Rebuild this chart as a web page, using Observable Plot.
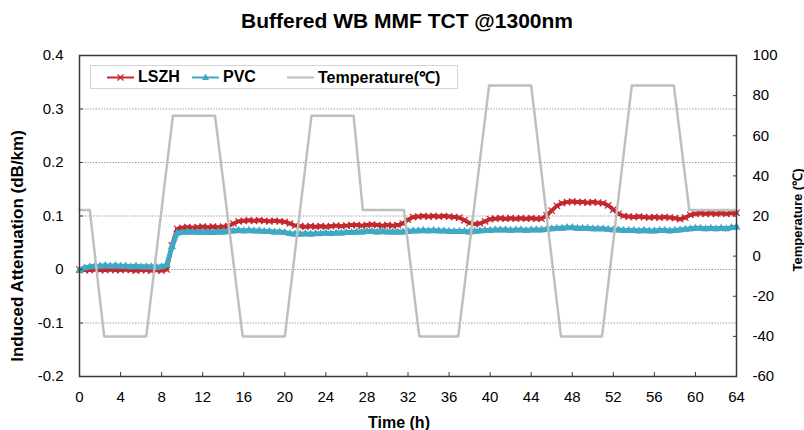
<!DOCTYPE html>
<html>
<head>
<meta charset="utf-8">
<script src="https://cdn.jsdelivr.net/npm/d3@7"></script>
<script src="https://cdn.jsdelivr.net/npm/@observablehq/plot@0.6"></script>
<style>
  body { margin: 0; background: #fff; }
  #wrap { position: relative; width: 804px; height: 430px; overflow: hidden; font-family: "Liberation Sans", Arial, sans-serif; }
  #title { position: absolute; top: 10px; left: 10px; width: 794px; text-align: center; font-weight: bold; font-size: 21px; line-height: 1; color: #000; }
  #chart { position: absolute; top: 38px; left: 0; }
  #legend { position: absolute; left: 90px; top: 65px; width: 366px; height: 22px; border: 1px solid #d4d4d4; background: #fff; }
  #legend .item { position: absolute; top: 0; height: 22px; display: flex; align-items: center; font-weight: bold; font-size: 16px; color: #000; }
  #legend svg { margin-right: 3px; }
</style>
</head>
<body>
<div id="wrap">
  <div id="title">Buffered WB MMF TCT @1300nm</div>
  <div id="chart"></div>
  <div id="legend"></div>
</div>
<script>
// Time axis of the samples (hours), one reading every half hour
const hours = d3.range(0, 64.001, 0.5);

// Induced attenuation (dB/km), LSZH jacket
const lszh = [
  0.000, -0.001, -0.001, 0.000, -0.001, -0.001, 0.000, -0.001, -0.001, 0.000,
  -0.001, -0.002, -0.001, -0.001, -0.002, -0.001, -0.002, 0.000, 0.045, 0.076,
  0.078, 0.079, 0.078, 0.079, 0.080, 0.079, 0.080, 0.079, 0.080, 0.081,
  0.086, 0.090, 0.091, 0.092, 0.091, 0.092, 0.091, 0.090, 0.091, 0.090,
  0.089, 0.086, 0.082, 0.081, 0.080, 0.081, 0.080, 0.081, 0.080, 0.081,
  0.082, 0.081, 0.082, 0.083, 0.083, 0.082, 0.083, 0.084, 0.083, 0.082,
  0.083, 0.082, 0.083, 0.086, 0.093, 0.098, 0.099, 0.100, 0.099, 0.100,
  0.099, 0.100, 0.099, 0.098, 0.097, 0.092, 0.087, 0.085, 0.086, 0.090,
  0.094, 0.095, 0.096, 0.095, 0.096, 0.095, 0.096, 0.095, 0.096, 0.095,
  0.095, 0.101, 0.110, 0.119, 0.124, 0.126, 0.127, 0.126, 0.126, 0.125,
  0.126, 0.125, 0.124, 0.120, 0.112, 0.104, 0.100, 0.099, 0.098, 0.099,
  0.098, 0.097, 0.098, 0.097, 0.098, 0.097, 0.096, 0.094, 0.097, 0.102,
  0.104, 0.105, 0.104, 0.105, 0.104, 0.105, 0.104, 0.105, 0.106
];

// Induced attenuation (dB/km), PVC jacket
const pvc = [
  -0.002, 0.003, 0.005, 0.006, 0.006, 0.007, 0.006, 0.007, 0.006, 0.006,
  0.005, 0.006, 0.005, 0.005, 0.005, 0.004, 0.005, 0.008, 0.042, 0.068,
  0.069, 0.070, 0.070, 0.069, 0.070, 0.069, 0.069, 0.070, 0.070, 0.071,
  0.072, 0.073, 0.072, 0.073, 0.072, 0.072, 0.071, 0.071, 0.070, 0.070,
  0.069, 0.067, 0.066, 0.066, 0.067, 0.066, 0.067, 0.067, 0.068, 0.067,
  0.068, 0.068, 0.069, 0.069, 0.070, 0.070, 0.071, 0.071, 0.070, 0.071,
  0.070, 0.070, 0.070, 0.070, 0.071, 0.072, 0.072, 0.073, 0.072, 0.073,
  0.072, 0.072, 0.071, 0.071, 0.071, 0.071, 0.070, 0.071, 0.072, 0.073,
  0.073, 0.074, 0.074, 0.074, 0.073, 0.074, 0.074, 0.073, 0.074, 0.074,
  0.074, 0.075, 0.076, 0.077, 0.077, 0.078, 0.078, 0.077, 0.077, 0.077,
  0.076, 0.076, 0.076, 0.075, 0.074, 0.074, 0.073, 0.073, 0.073, 0.072,
  0.073, 0.072, 0.072, 0.073, 0.073, 0.072, 0.073, 0.074, 0.075, 0.076,
  0.077, 0.077, 0.076, 0.077, 0.076, 0.077, 0.076, 0.078, 0.079
];

// Chamber temperature profile: breakpoints (hour, °C)
const tempHours = [0, 1, 2.4, 6.5, 9.1, 13.2, 15.9, 20, 22.6, 26.7, 27.6, 31.6, 33.1, 36.9, 39.9, 44, 46.9, 50.9, 53.8, 57.9, 59.4, 64];
const tempValues = [23, 23, -40, -40, 70, 70, -40, -40, 70, 70, 23, 23, -40, -40, 85, 85, -40, -40, 85, 85, 23, 23];

// Tick values
const timeTicks = [0, 4, 8, 12, 16, 20, 24, 28, 32, 36, 40, 44, 48, 52, 56, 60, 64];
const attTicks = [-0.2, -0.1, 0, 0.1, 0.2, 0.3, 0.4];
const tempTicks = [-60, -40, -20, 0, 20, 40, 60, 80, 100];

const colors = { lszh: "#c4282d", pvc: "#3fa9c4", temp: "#bfbfbf", axis: "#3a3a3a" };

// Secondary axis: map temperature onto the attenuation scale
const attMin = -0.2, attMax = 0.4, tMin = -60, tMax = 100;
const tempToAtt = t => attMin + (t - tMin) / (tMax - tMin) * (attMax - attMin);
const attToTemp = a => tMin + (a - attMin) / (attMax - attMin) * (tMax - tMin);

const lszhData = hours.map((h, i) => ({ h, v: lszh[i] }));
const pvcData = hours.map((h, i) => ({ h, v: pvc[i] }));
const tempData = tempHours.map((h, i) => ({ h, v: tempToAtt(tempValues[i]) }));

const fmtAtt = d => (Math.abs(d) < 1e-9 ? "0" : d.toFixed(1));

const chart = Plot.plot({
  width: 804,
  height: 392,
  marginTop: 17,
  marginBottom: 54,
  marginLeft: 79,
  marginRight: 68,
  style: { fontFamily: "Liberation Sans, Arial, sans-serif", fontSize: "15px", color: "#000", background: "#fff", overflow: "visible" },
  x: { domain: [0, 64] },
  y: { domain: [attMin, attMax] },
  marks: [
    Plot.gridY(attTicks.filter(d => d > attMin && d < attMax), { stroke: "#8a8a8a", strokeOpacity: 1, strokeDasharray: "1.2,1.6" }),
    Plot.line(lszhData, { x: "h", y: "v", stroke: colors.lszh, strokeWidth: 4 }),
    Plot.dot(lszhData, { x: "h", y: "v", symbol: "times", r: 3, stroke: colors.lszh, strokeWidth: 1.2 }),
    Plot.line(pvcData, { x: "h", y: "v", stroke: colors.pvc, strokeWidth: 5 }),
    Plot.dot(pvcData, { x: "h", y: "v", symbol: "triangle", r: 3, fill: colors.pvc, stroke: "none" }),
    Plot.line(tempData, { x: "h", y: "v", stroke: colors.temp, strokeWidth: 2.5 }),
    Plot.frame({ stroke: colors.axis, strokeWidth: 1.5 }),
    Plot.axisY(attTicks, { anchor: "left", tickSize: -4, tickPadding: 20, tickFormat: fmtAtt, label: null, stroke: colors.axis }),
    Plot.axisY(tempTicks.map(tempToAtt), { anchor: "right", tickSize: -4, tickPadding: 20, tickFormat: a => String(Math.round(attToTemp(a))), label: null, stroke: colors.axis }),
    Plot.axisX(timeTicks, { anchor: "bottom", tickSize: -4, tickPadding: 19, label: null, stroke: colors.axis }),
    Plot.text(["Induced Attenuation (dB/km)"], { frameAnchor: "left", textAnchor: "middle", dx: -62, dy: 30, rotate: -90, fontWeight: "bold", fontSize: 17 }),
    Plot.text(["Temperature (℃)"], { frameAnchor: "right", textAnchor: "middle", dx: 61, dy: 4, rotate: -90, fontWeight: "bold", fontSize: 13 }),
    Plot.text(["Time (h)"], { frameAnchor: "bottom", dx: -9, dy: 51, fontWeight: "bold", fontSize: 16 })
  ]
});
document.getElementById("chart").appendChild(chart);

// Legend inside the plot area
const legendItems = [
  { label: "LSZH", color: colors.lszh, symbol: "times", left: 16 },
  { label: "PVC", color: colors.pvc, symbol: "triangle", left: 101 },
  { label: "Temperature(℃)", color: colors.temp, symbol: null, left: 196 }
];
const legend = document.getElementById("legend");
for (const it of legendItems) {
  const item = document.createElement("div");
  item.className = "item";
  item.style.left = it.left + "px";
  let glyph = "";
  if (it.symbol === "times") glyph = `<path d="M10.5,8.5L16.5,14.5M16.5,8.5L10.5,14.5" stroke="${it.color}" stroke-width="1.3"/>`;
  if (it.symbol === "triangle") glyph = `<path d="M13.5,7.5L17,14L10,14Z" fill="${it.color}"/>`;
  item.innerHTML = `<svg width="28" height="22"><line x1="0" x2="27" y1="11.5" y2="11.5" stroke="${it.color}" stroke-width="2"/>${glyph}</svg><span>${it.label}</span>`;
  legend.appendChild(item);
}
</script>
</body>
</html>
